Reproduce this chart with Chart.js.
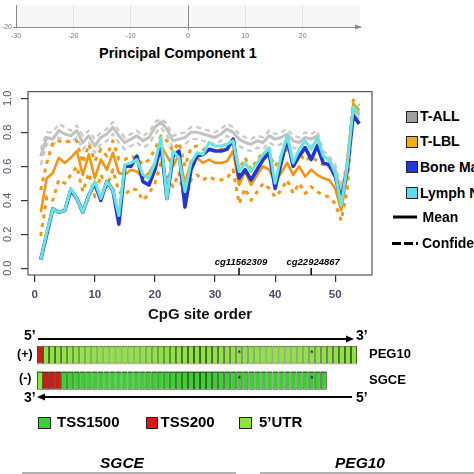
<!DOCTYPE html>
<html><head><meta charset="utf-8">
<script src="https://cdn.jsdelivr.net/npm/chart.js@4.4.1/dist/chart.umd.min.js"></script>
<style>
html,body{margin:0;padding:0;background:#fff;}
#fig{position:relative;width:474px;height:474px;overflow:hidden;font-family:"Liberation Sans",Arial,sans-serif;color:#000;}
.abs{position:absolute;white-space:nowrap;}
.b{font-weight:bold;}
.sq{position:absolute;box-sizing:border-box;border:1.5px solid #222;}
</style></head><body>
<div id="fig">
  <div class="abs" style="left:0;top:0;width:372px;height:42px"><canvas id="pca"></canvas></div>
  <div class="abs b" style="left:0;top:44px;width:356px;text-align:center;font-size:14.5px;line-height:18px;">Principal Component 1</div>

  <div class="abs" style="left:0;top:80px;width:380px;height:250px"><canvas id="main"></canvas></div>

  <!-- main legend -->
  <div class="sq" style="left:405.5px;top:110.5px;width:12px;height:12px;background:#a0a0a0"></div>
  <div class="abs b" style="left:420px;top:108px;font-size:14px;line-height:17px">T-ALL</div>
  <div class="sq" style="left:405.5px;top:135.5px;width:12px;height:12px;background:#f6a821"></div>
  <div class="abs b" style="left:420px;top:133px;font-size:14px;line-height:17px">T-LBL</div>
  <div class="sq" style="left:405.5px;top:161px;width:12px;height:12px;background:#1f3ad6"></div>
  <div class="abs b" style="left:420px;top:158.5px;font-size:14px;line-height:17px">Bone Marrow</div>
  <div class="sq" style="left:405.5px;top:187px;width:12px;height:12px;background:#5fd8f0"></div>
  <div class="abs b" style="left:420px;top:184.5px;font-size:14px;line-height:17px">Lymph Node</div>
  <svg class="abs" style="left:0;top:0" width="474" height="474">
    <line x1="393" y1="217" x2="417" y2="217" stroke="#000" stroke-width="3"/>
    <line x1="392" y1="243.5" x2="418" y2="243.5" stroke="#000" stroke-width="3" stroke-dasharray="9 3"/>
    <line x1="38" y1="339" x2="348" y2="339" stroke="#000" stroke-width="1.8"/>
    <polygon points="354,339 346,335.5 346,342.5" fill="#000"/>
    <line x1="44" y1="397" x2="352" y2="397" stroke="#000" stroke-width="1.8"/>
    <polygon points="37,397 45,393.5 45,400.5" fill="#000"/>
  </svg>
  <div class="abs b" style="left:422.5px;top:208.5px;font-size:14px;line-height:17px">Mean</div>
  <div class="abs b" style="left:422px;top:235px;font-size:14px;line-height:17px">Confidence interval</div>

  <!-- gene diagram -->
  <div class="abs b" style="left:24px;top:327px;font-size:14px;line-height:17px">5’</div>
  <div class="abs b" style="left:356px;top:327px;font-size:14px;line-height:17px">3’</div>
  <div class="abs b" style="left:24px;top:389px;font-size:14px;line-height:17px">3’</div>
  <div class="abs b" style="left:356px;top:389px;font-size:14px;line-height:17px">5’</div>
  <div class="abs b" style="left:17px;top:346px;font-size:12.5px;line-height:16px">(+)</div>
  <div class="abs b" style="left:19px;top:370px;font-size:12.5px;line-height:16px">(-)</div>
  <div class="abs b" style="left:369px;top:346px;font-size:13px;line-height:16px">PEG10</div>
  <div class="abs b" style="left:369px;top:372px;font-size:13px;line-height:16px">SGCE</div>
  <div class="abs" style="left:37px;top:342px;width:320px;height:50.5px"><canvas id="gene"></canvas></div>

  <div class="sq" style="left:38px;top:416.5px;width:12.5px;height:12px;background:#38d22e"></div>
  <div class="abs b" style="left:57px;top:413px;font-size:15px;line-height:18px">TSS1500</div>
  <div class="sq" style="left:145.5px;top:416.5px;width:12px;height:12px;background:#e01414"></div>
  <div class="abs b" style="left:160.5px;top:413px;font-size:15px;line-height:18px">TSS200</div>
  <div class="sq" style="left:239px;top:416.5px;width:12.5px;height:12px;background:#8fe43c"></div>
  <div class="abs b" style="left:259px;top:413px;font-size:15px;line-height:18px">5’UTR</div>

  <div class="abs b" style="left:72px;top:453px;width:100px;text-align:center;font-size:15.5px;line-height:19px;font-style:italic">SGCE</div>
  <div class="abs b" style="left:310px;top:453px;width:100px;text-align:center;font-size:15.5px;line-height:19px;font-style:italic">PEG10</div>
  <div class="abs" style="left:21.5px;top:471.5px;width:214px;height:3px;background:#b0b0b0"></div>
  <div class="abs" style="left:260px;top:471.5px;width:214px;height:3px;background:#b0b0b0"></div>
</div>
<script>
// ---------------- data ----------------
const cpgSites = [1,2,3,4,5,6,7,8,9,10,11,12,13,14,15,16,17,18,19,20,21,22,23,24,25,26,27,28,29,30,31,32,33,34,35,36,37,38,39,40,41,42,43,44,45,46,47,48,49,50,51,52,53,54];
const tallMean  = [0.66,0.77,0.76,0.81,0.79,0.78,0.81,0.74,0.78,0.72,0.77,0.79,0.83,0.78,0.74,0.76,0.78,0.75,0.77,0.83,0.86,0.82,0.75,0.76,0.77,0.80,0.80,0.79,0.78,0.77,0.79,0.82,0.80,0.76,0.74,0.73,0.75,0.74,0.78,0.76,0.77,0.79,0.75,0.74,0.77,0.76,0.78,0.66,0.63,0.58,0.45,0.60,0.93,0.90];
const tallUpper = [0.70,0.80,0.80,0.85,0.83,0.81,0.84,0.78,0.81,0.76,0.80,0.82,0.86,0.81,0.77,0.79,0.81,0.78,0.80,0.86,0.88,0.85,0.78,0.79,0.80,0.83,0.83,0.82,0.81,0.80,0.82,0.85,0.83,0.79,0.77,0.76,0.78,0.77,0.81,0.79,0.80,0.82,0.78,0.77,0.80,0.79,0.81,0.69,0.66,0.61,0.48,0.63,0.95,0.92];
const tallLower = [0.61,0.73,0.72,0.77,0.75,0.74,0.77,0.70,0.74,0.68,0.73,0.75,0.79,0.74,0.70,0.72,0.74,0.71,0.73,0.79,0.83,0.78,0.71,0.72,0.73,0.76,0.76,0.75,0.74,0.73,0.75,0.78,0.76,0.72,0.70,0.69,0.71,0.70,0.74,0.72,0.73,0.75,0.71,0.70,0.73,0.72,0.74,0.62,0.59,0.54,0.41,0.56,0.91,0.88];
const tlblMean  = [0.33,0.53,0.56,0.65,0.62,0.65,0.69,0.55,0.67,0.53,0.64,0.58,0.68,0.56,0.55,0.58,0.57,0.53,0.56,0.62,0.72,0.66,0.60,0.67,0.50,0.63,0.65,0.62,0.64,0.62,0.62,0.63,0.69,0.49,0.57,0.49,0.55,0.60,0.58,0.51,0.56,0.62,0.55,0.60,0.54,0.58,0.55,0.53,0.52,0.47,0.34,0.55,0.97,0.93];
const tlblUpper = [0.46,0.62,0.74,0.75,0.74,0.75,0.75,0.62,0.73,0.63,0.70,0.66,0.75,0.64,0.64,0.66,0.65,0.61,0.64,0.70,0.78,0.75,0.69,0.74,0.60,0.71,0.72,0.70,0.71,0.69,0.70,0.72,0.76,0.58,0.65,0.58,0.64,0.68,0.67,0.60,0.66,0.70,0.64,0.68,0.63,0.66,0.63,0.61,0.60,0.55,0.40,0.62,0.99,0.96];
const tlblLower = [0.19,0.42,0.40,0.52,0.50,0.55,0.60,0.45,0.56,0.42,0.55,0.48,0.58,0.45,0.43,0.47,0.46,0.40,0.44,0.50,0.62,0.55,0.48,0.56,0.38,0.52,0.55,0.52,0.54,0.52,0.52,0.53,0.58,0.38,0.47,0.40,0.45,0.50,0.47,0.42,0.46,0.52,0.44,0.50,0.44,0.48,0.45,0.43,0.42,0.38,0.28,0.46,0.94,0.90];
const bmMean    = [0.05,0.20,0.35,0.33,0.34,0.46,0.41,0.33,0.43,0.50,0.40,0.51,0.46,0.26,0.60,0.60,0.66,0.51,0.49,0.58,0.73,0.41,0.66,0.69,0.36,0.58,0.66,0.67,0.70,0.69,0.69,0.70,0.76,0.53,0.58,0.52,0.58,0.64,0.68,0.47,0.62,0.76,0.60,0.66,0.71,0.64,0.72,0.62,0.61,0.54,0.40,0.58,0.90,0.85];
const lnMean    = [0.05,0.21,0.35,0.33,0.34,0.47,0.41,0.33,0.43,0.51,0.41,0.51,0.46,0.31,0.61,0.62,0.64,0.55,0.53,0.62,0.77,0.41,0.69,0.65,0.45,0.62,0.68,0.67,0.74,0.72,0.72,0.73,0.75,0.57,0.62,0.57,0.62,0.67,0.71,0.50,0.66,0.78,0.62,0.70,0.75,0.70,0.77,0.66,0.64,0.56,0.37,0.60,0.95,0.91];
const xTicks = [0,10,20,30,40,50];
const yTicks = [0,0.2,0.4,0.6,0.8,1.0];
const markerSites = [34,46];
const markerLabels = ['cg11562309','cg22924867'];
const pcaXTicks = [-30,-20,-10,0,10,20];
const pcaYTicks = [-20];
const geneRows = ['PEG10','SGCE'];
// cell annotation per CpG: R = TSS200, G = TSS1500, U = 5'UTR
const peg10Cells = 'RUUUUUUUUUUUUUUUUUUUUUUUUUUUUUUUUUUUUUUUUUUUUUUUUUUUU'.split('');
const sgceCells  = 'URRRGGGGGGGGGGGGGGGGGGGGGGGGGGGGGGGGGGGGGGGGGGGG'.split('');

// ---------------- styles ----------------
const cellColor = {R:'#e01414', G:'#38d22e', U:'#8fe43c'};
const FONT = '"Liberation Sans", Arial, sans-serif';
Chart.defaults.font.family = FONT;
Chart.defaults.animation = false;

const pts = arr => cpgSites.map((s,i)=>({x:s,y:arr[i]}));

// ---------------- PCA fragment ----------------
const pcaPlugin = {
  id:'pcaBg',
  beforeDraw(c){
    const {ctx, chartArea:a} = c;
    ctx.save(); ctx.fillStyle='#f7f7f7'; ctx.fillRect(a.left,a.top,a.right-a.left,a.bottom-a.top); ctx.restore();
  },
  afterDraw(c){
    const {ctx, chartArea:a} = c;
    ctx.save(); ctx.fillStyle='#888';
    ctx.beginPath(); ctx.moveTo(a.right+2,a.bottom); ctx.lineTo(a.right-5,a.bottom-2.5); ctx.lineTo(a.right-5,a.bottom+2.5); ctx.closePath(); ctx.fill();
    ctx.restore();
  }
};
new Chart(document.getElementById('pca'), {
  type:'scatter',
  data:{datasets:[{data:[]}]},
  options:{
    responsive:true, maintainAspectRatio:false,
    layout:{padding:{top:0,right:12,left:0,bottom:0}},
    plugins:{legend:{display:false}, tooltip:{enabled:false}},
    scales:{
      x:{type:'linear', min:-30, max:30,
         afterBuildTicks:s=>{s.ticks=pcaXTicks.map(v=>({value:v}));},
         afterFit:s=>{s.height=15;},
         grid:{color:c=>c.tick && c.tick.value===0 ? '#8a8a8a' : '#e4e4e4', tickLength:3},
         border:{display:true,color:'#8a8a8a'},
         ticks:{font:{size:7,family:FONT}, color:'#777', padding:2, maxRotation:0}},
      y:{type:'linear', min:-20, max:-10,
         afterBuildTicks:s=>{s.ticks=pcaYTicks.map(v=>({value:v}));},
         afterFit:s=>{s.width=16;},
         grid:{display:true, drawOnChartArea:false, tickLength:3, color:'#8a8a8a'},
         border:{display:true,color:'#8a8a8a'},
         ticks:{font:{size:7,family:FONT}, color:'#777', padding:1}}
    }
  },
  plugins:[pcaPlugin]
});

// ---------------- main methylation chart ----------------
const framePlugin = {
  id:'frame',
  afterDraw(c){
    const {ctx, chartArea:a, scales} = c;
    ctx.save();
    ctx.strokeStyle='#555'; ctx.lineWidth=1.2;
    ctx.strokeRect(a.left,a.top,a.right-a.left,a.bottom-a.top);
    ctx.strokeStyle='#000'; ctx.lineWidth=1.5; ctx.fillStyle='#000';
    ctx.font='italic bold 9.5px '+FONT; ctx.textAlign='center'; ctx.textBaseline='middle';
    markerSites.forEach((s,i)=>{
      const px = scales.x.getPixelForValue(s);
      ctx.beginPath(); ctx.moveTo(px,a.bottom); ctx.lineTo(px,a.bottom-7); ctx.stroke();
      ctx.fillText(markerLabels[i], px+2, a.bottom-13);
    });
    ctx.restore();
  }
};
const lineDs = (data, color, width, dash, order) => ({
  data:pts(data), borderColor:color, borderWidth:width, borderDash:dash||[],
  pointRadius:0, tension:0, fill:false, order:order, borderCapStyle:'butt', borderJoinStyle:'round'
});
new Chart(document.getElementById('main'), {
  type:'line',
  data:{datasets:[
    lineDs(tallUpper,'#cacaca',2.4,[5,4],9),
    lineDs(tallLower,'#cacaca',2.4,[5,4],9),
    lineDs(tallMean,'#c2c2c2',3,null,8),
    lineDs(tlblUpper,'#f5960f',3,[4,5],7),
    lineDs(tlblLower,'#f5960f',3,[4,5],7),
    lineDs(tlblMean,'#f59412',2.6,null,6),
    lineDs(bmMean,'#2038d0',3.6,null,5),
    lineDs(lnMean,'#66e6dd',3,null,4)
  ]},
  options:{
    responsive:true, maintainAspectRatio:false,
    layout:{padding:{top:4,right:8,left:0,bottom:0}},
    plugins:{legend:{display:false}, tooltip:{enabled:false}},
    scales:{
      x:{type:'linear', min:-1.12, max:56.12,
         afterBuildTicks:s=>{s.ticks=xTicks.map(v=>({value:v}));},
         afterFit:s=>{s.height=55;},
         grid:{drawOnChartArea:false, tickLength:7, color:'#333', lineWidth:1.2},
         border:{display:false},
         ticks:{font:{size:11.5,weight:'bold',family:FONT}, color:'#4a4a6e', padding:6, maxRotation:0},
         title:{display:true, text:'CpG site order', font:{size:15,weight:'bold',family:FONT}, color:'#111', padding:{top:0,bottom:6}}},
      y:{type:'linear', min:-0.04, max:1.04,
         afterBuildTicks:s=>{s.ticks=yTicks.map(v=>({value:v}));},
         afterFit:s=>{s.width=28;},
         grid:{drawOnChartArea:false, tickLength:7, color:'#333', lineWidth:1.2},
         border:{display:false},
         ticks:{font:{size:11,family:FONT}, color:'#55556e', padding:5, minRotation:90, maxRotation:90, crossAlign:'center', autoSkip:false,
                callback:v=>Number(v).toFixed(1)}}
    }
  },
  plugins:[framePlugin]
});

// ---------------- gene diagram ----------------
const nCells = Math.max(peg10Cells.length, sgceCells.length);
const geneDatasets = [];
for (let k=0;k<nCells;k++){
  const p = peg10Cells[k], s = sgceCells[k];
  geneDatasets.push({
    data:[p?1:null, s?1:null],
    backgroundColor:[cellColor[p]||'#fff', cellColor[s]||'#fff'],
    borderColor:'#243a16', borderWidth:0.9, borderSkipped:false, inflateAmount:0,
    categoryPercentage:1, barPercentage:0.7
  });
}
const starPlugin = {
  id:'stars',
  afterDatasetsDraw(c){
    const {ctx, scales} = c;
    ctx.save(); ctx.fillStyle='#111'; ctx.font='bold 8px '+FONT; ctx.textAlign='center'; ctx.textBaseline='middle';
    [peg10Cells, sgceCells].forEach((cells,row)=>{
      markerSites.forEach(site=>{
        if (site<=cells.length){
          ctx.fillText('*', scales.x.getPixelForValue(site-0.5), scales.y.getPixelForValue(row)-2);
        }
      });
    });
    ctx.restore();
  }
};
new Chart(document.getElementById('gene'), {
  type:'bar',
  data:{labels:geneRows, datasets:geneDatasets},
  options:{
    indexAxis:'y',
    responsive:true, maintainAspectRatio:false,
    layout:{padding:0},
    plugins:{legend:{display:false}, tooltip:{enabled:false}},
    scales:{
      x:{type:'linear', stacked:true, min:0, max:peg10Cells.length, display:false},
      y:{type:'category', stacked:true, display:false}
    }
  },
  plugins:[starPlugin]
});
</script>
</body></html>
